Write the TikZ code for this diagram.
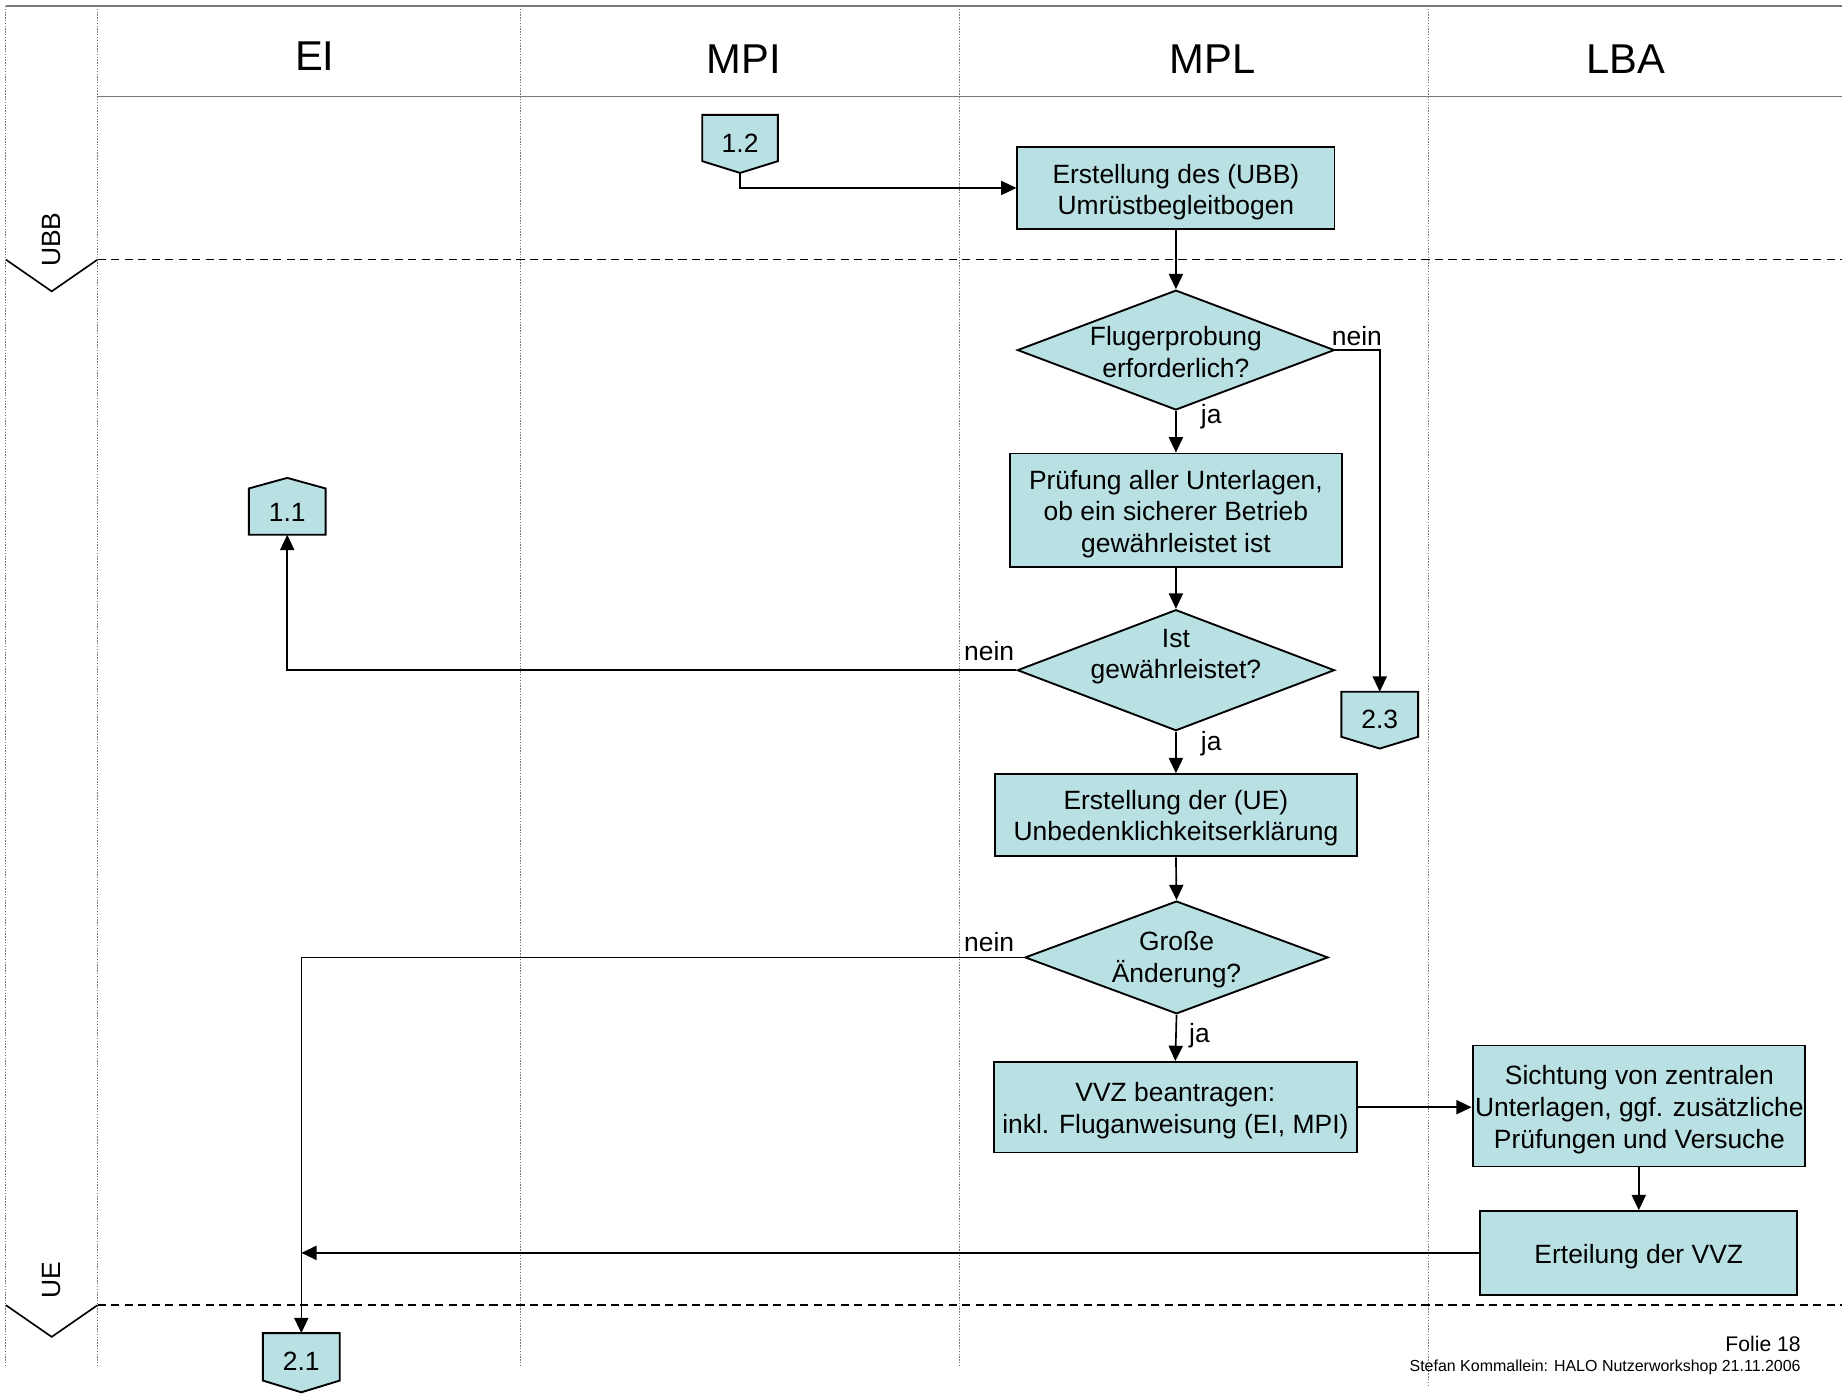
\documentclass[tikz,border=0pt]{standalone}
\usepackage{fontspec}
\setmainfont{Liberation Sans}
\usetikzlibrary{arrows.meta,shapes.geometric,calc}
\definecolor{boxfill}{RGB}{185,224,227}
\definecolor{framegray}{RGB}{120,120,120}
\newcommand\bodyfont{\fontsize{22.5}{27}\selectfont}
\newcommand\headfont{\fontsize{35.5}{40}\selectfont}
\begin{document}
\begin{tikzpicture}[x=1pt,y=-1pt,
  box/.style={draw=black, line width=1.6pt, fill=boxfill, inner sep=0pt},
  dia/.style={diamond, draw=black, line width=1.6pt, fill=boxfill, inner sep=0pt},
  txt/.style={align=center, inner sep=0pt, font=\bodyfont},
  conn/.style={inner sep=0pt, draw=none},
  penta/.style={draw=black, line width=1.6pt, fill=boxfill, line join=miter},
  arr/.style={line width=1.4pt, -{Triangle[length=13pt,width=12pt]}},
  lane/.style={framegray, line width=0.7pt, dash pattern=on 1.2pt off 1.2pt},
  sep/.style={black, line width=1.4pt, dash pattern=on 7pt off 4.5pt},
  chev/.style={black, line width=1.4pt},
  frame/.style={framegray, line width=1.2pt}]
\useasboundingbox (0,0) rectangle (1568,1186);

% frame and lanes
\draw[frame] (5,5) -- (1568,5);
\draw[frame] (83,82) -- (1568,82);
\foreach \xx in {5,83,443,817} \draw[lane] (\xx,5) -- (\xx,1163);
\draw[lane] (1216,5) -- (1216,1180);

% headers
\node[font=\headfont] (hEI) at (268,48) {EI};
\node[font=\headfont] (hMPI) at (633,50) {MPI};
\node[font=\headfont] (hMPL) at (1032,50) {MPL};
\node[font=\headfont] (hLBA) at (1384,50) {LBA};

% phase separators
\draw[sep] (83,221) -- (1568,221);
\draw[chev] (5,221) -- (44,248) -- (83,221);
\node[txt, rotate=90] (lUBB) at (44,204) {UBB};
\draw[sep] (83,1111) -- (1568,1111);
\draw[chev] (5,1111) -- (44,1138) -- (83,1111);
\node[txt, rotate=90] (lUE) at (44,1090) {UE};

% off-page connectors
\node[conn, minimum width=64pt, minimum height=49pt] (c12) at (630,122.5) {};
\draw[penta] (c12.north west) -- (c12.north east) -- ($(c12.south east)+(0,-10)$) -- (c12.south) -- ($(c12.south west)+(0,-10)$) -- cycle;
\node[txt] (c12t) at (630,122) {1.2};

\node[conn, minimum width=65pt, minimum height=48pt] (c11) at (244.5,431) {};
\draw[penta] (c11.south west) -- (c11.south east) -- ($(c11.north east)+(0,9)$) -- (c11.north) -- ($(c11.north west)+(0,9)$) -- cycle;
\node[txt] (c11t) at (244.5,436) {1.1};

\node[conn, minimum width=65pt, minimum height=48pt] (c23) at (1174.5,613) {};
\draw[penta] (c23.north west) -- (c23.north east) -- ($(c23.south east)+(0,-10)$) -- (c23.south) -- ($(c23.south west)+(0,-10)$) -- cycle;
\node[txt] (c23t) at (1174.5,612) {2.3};

\node[conn, minimum width=65pt, minimum height=50pt] (c21) at (256.5,1160) {};
\draw[penta] (c21.north west) -- (c21.north east) -- ($(c21.south east)+(0,-10)$) -- (c21.south) -- ($(c21.south west)+(0,-10)$) -- cycle;
\node[txt] (c21t) at (256.5,1159) {2.1};

% process boxes
\node[box, minimum width=270pt, minimum height=70pt] (ubb) at (1001,160) {};
\node[txt] (ubbt) at (1001,163.5) {Erstellung des (UBB)\\Umrüstbegleitbogen};
\node[box, minimum width=283pt, minimum height=97pt] (prf) at (1001,434.5) {};
\node[txt] (prft) at (1001,437.5) {Prüfung aller Unterlagen,\\ob ein sicherer Betrieb\\gewährleistet ist};
\node[box, minimum width=308pt, minimum height=70pt] (ue) at (1001,694) {};
\node[txt] (uet) at (1001,696.5) {Erstellung der (UE)\\Unbedenklichkeitserklärung};
\node[box, minimum width=309pt, minimum height=77pt] (vvz) at (1000.5,942.5) {};
\node[txt] (vvzt) at (1000.5,945.5) {VVZ beantragen:\\inkl. Fluganweisung (EI, MPI)};
\node[box, minimum width=283pt, minimum height=103pt] (sicht) at (1395,941.5) {};
\node[txt] (sichtt) at (1395.5,944.5) {Sichtung von zentralen\\Unterlagen, ggf. zusätzliche\\Prüfungen und Versuche};
\node[box, minimum width=270pt, minimum height=71pt] (erteil) at (1395,1066.5) {};
\node[txt] (erteilt) at (1395,1069.5) {Erteilung der VVZ};

% decisions
\node[dia, minimum width=270pt, minimum height=102pt] (d1) at (1001,298) {};
\node[txt] (d1t) at (1001,299.5) {Flugerprobung\\erforderlich?};
\node[dia, minimum width=270pt, minimum height=103pt] (d2) at (1001,570.5) {};
\node[txt] (d2t) at (1001,559) {Ist\\gewährleistet?};
\node[dia, minimum width=258pt, minimum height=96pt] (d3) at (1001.5,815) {};
\node[txt] (d3t) at (1001.5,817) {Große\\Änderung?};

% connectors
\draw[arr] (c12.south) |- (ubb.west);
\draw[arr] (ubb.south) -- (d1.north);
\draw[arr] (d1.south) -- (prf.north);
\draw[arr] (d1.east) -| (c23.north);
\draw[arr] (prf.south) -- (d2.north);
\draw[arr] (d2.west) -| (c11.south);
\draw[arr] (d2.south) -- (ue.north);
\draw[arr] (ue.south) -- (d3.north);
\draw[arr] (d3.west) -| (c21.north);
\draw[arr] (d3.south) -- (vvz.north);
\draw[arr] (vvz.east) -- (vvz.east -| sicht.west);
\draw[arr] (sicht.south) -- (erteil.north);
\coordinate (j21) at (erteil.west -| c21.north);
\draw[arr] (erteil.west) -- (j21);

% branch labels
\node[txt] (n1) at (1155,286) {nein};
\node[txt] (j1) at (1031,355) {ja};
\node[txt] (n2) at (842,554) {nein};
\node[txt] (j2) at (1031,633) {ja};
\node[txt] (n3) at (842,802) {nein};
\node[txt] (j3) at (1021,882) {ja};

% footer
\node[anchor=east, inner sep=0pt, font=\fontsize{18}{20}\selectfont] (folie) at (1533,1144) {Folie 18};
\node[anchor=east, inner sep=0pt, font=\fontsize{13.6}{15}\selectfont] (autor) at (1533,1164) {Stefan Kommallein: HALO Nutzerworkshop 21.11.2006};
\end{tikzpicture}
\end{document}
